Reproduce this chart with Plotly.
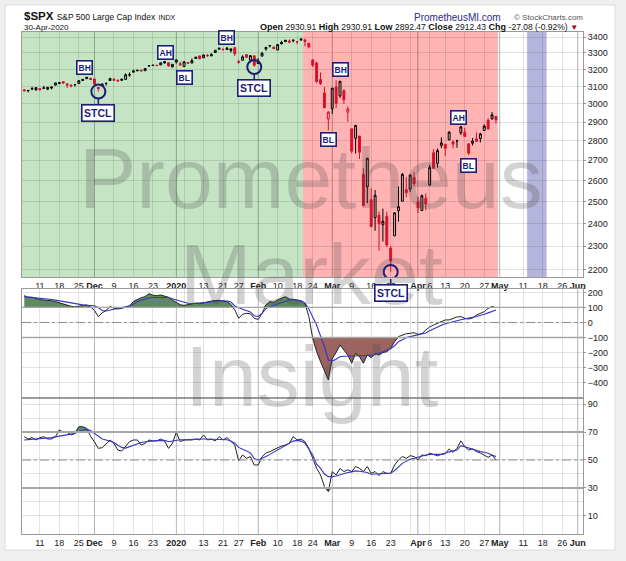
import math
import plotly.graph_objects as go

# ---- S&P 500 daily candles, 5-Nov-2019 .. 30-Apr-2020
dates = [
    "2019-11-05", "2019-11-06", "2019-11-07", "2019-11-08",
    "2019-11-11", "2019-11-12", "2019-11-13", "2019-11-14", "2019-11-15",
    "2019-11-18", "2019-11-19", "2019-11-20", "2019-11-21", "2019-11-22",
    "2019-11-25", "2019-11-26", "2019-11-27", "2019-11-29",
    "2019-12-02", "2019-12-03", "2019-12-04", "2019-12-05", "2019-12-06",
    "2019-12-09", "2019-12-10", "2019-12-11", "2019-12-12", "2019-12-13",
    "2019-12-16", "2019-12-17", "2019-12-18", "2019-12-19", "2019-12-20",
    "2019-12-23", "2019-12-24", "2019-12-26", "2019-12-27",
    "2019-12-30", "2019-12-31", "2020-01-02", "2020-01-03",
    "2020-01-06", "2020-01-07", "2020-01-08", "2020-01-09", "2020-01-10",
    "2020-01-13", "2020-01-14", "2020-01-15", "2020-01-16", "2020-01-17",
    "2020-01-21", "2020-01-22", "2020-01-23", "2020-01-24",
    "2020-01-27", "2020-01-28", "2020-01-29", "2020-01-30", "2020-01-31",
    "2020-02-03", "2020-02-04", "2020-02-05", "2020-02-06", "2020-02-07",
    "2020-02-10", "2020-02-11", "2020-02-12", "2020-02-13", "2020-02-14",
    "2020-02-18", "2020-02-19", "2020-02-20", "2020-02-21",
    "2020-02-24", "2020-02-25", "2020-02-26", "2020-02-27", "2020-02-28",
    "2020-03-02", "2020-03-03", "2020-03-04", "2020-03-05", "2020-03-06",
    "2020-03-09", "2020-03-10", "2020-03-11", "2020-03-12", "2020-03-13",
    "2020-03-16", "2020-03-17", "2020-03-18", "2020-03-19", "2020-03-20",
    "2020-03-23", "2020-03-24", "2020-03-25", "2020-03-26", "2020-03-27",
    "2020-03-30", "2020-03-31", "2020-04-01", "2020-04-02", "2020-04-03",
    "2020-04-06", "2020-04-07", "2020-04-08", "2020-04-09",
    "2020-04-13", "2020-04-14", "2020-04-15", "2020-04-16", "2020-04-17",
    "2020-04-20", "2020-04-21", "2020-04-22", "2020-04-23", "2020-04-24",
    "2020-04-27", "2020-04-28", "2020-04-29", "2020-04-30",
]
opens = [
    3080.80, 3075.10, 3087.02, 3081.25, 3080.33, 3089.28, 3084.18, 3090.75, 3107.92,
    3117.91, 3127.45, 3114.66, 3108.49, 3111.41, 3117.44, 3134.85, 3145.49, 3147.18,
    3143.85, 3087.41, 3103.50, 3119.21, 3134.62, 3141.86, 3135.36, 3135.75, 3141.23, 3166.65,
    3183.63, 3195.40, 3195.21, 3192.32, 3223.33, 3226.05, 3225.45, 3227.20, 3247.23,
    3240.09, 3215.18, 3244.67, 3226.36, 3217.55, 3241.86, 3238.59, 3266.03, 3281.81,
    3271.13, 3285.35, 3282.27, 3302.97, 3323.66, 3321.03, 3330.02, 3315.77, 3333.10,
    3247.16, 3255.35, 3289.46, 3256.45, 3282.33, 3235.66, 3280.61, 3324.91, 3344.92, 3335.54,
    3318.28, 3365.87, 3370.50, 3365.90, 3378.08, 3369.04, 3380.39, 3380.45, 3360.50,
    3257.61, 3238.94, 3139.90, 3062.54, 2916.90, 2974.28, 3096.46, 3045.75, 3075.70, 2954.20,
    2863.89, 2813.48, 2825.60, 2630.86, 2569.99, 2508.59, 2425.66, 2436.50, 2393.48, 2431.94,
    2290.71, 2344.44, 2457.77, 2501.29, 2555.87, 2558.98, 2614.69, 2498.08, 2458.54, 2514.92,
    2578.28, 2738.65, 2685.00, 2776.99, 2782.46, 2805.10, 2795.64, 2799.34, 2842.43,
    2845.62, 2784.81, 2787.89, 2810.42, 2812.64, 2854.65, 2909.96, 2918.46, 2930.91,
]
highs = [
    3083.95, 3078.34, 3097.77, 3093.09, 3088.33, 3102.61, 3098.06, 3098.20, 3120.46,
    3124.17, 3127.64, 3118.97, 3110.11, 3112.87, 3133.83, 3142.69, 3154.26, 3150.30,
    3144.31, 3094.97, 3119.38, 3119.45, 3150.60, 3148.87, 3142.12, 3143.98, 3176.28, 3182.68,
    3197.71, 3198.22, 3198.48, 3205.48, 3225.65, 3227.78, 3226.43, 3240.08, 3247.93,
    3240.92, 3231.72, 3258.14, 3246.15, 3246.84, 3244.91, 3267.07, 3275.58, 3282.99,
    3288.13, 3294.25, 3298.66, 3317.11, 3329.88, 3329.79, 3337.77, 3326.88, 3333.18,
    3258.85, 3285.78, 3293.47, 3285.91, 3282.33, 3268.44, 3306.92, 3337.58, 3347.96, 3341.42,
    3352.26, 3375.63, 3381.47, 3385.09, 3380.69, 3375.01, 3393.52, 3389.15, 3360.76,
    3259.81, 3246.99, 3182.51, 3097.07, 2959.72, 3090.96, 3136.72, 3130.97, 3083.04, 2985.93,
    2863.89, 2882.59, 2825.60, 2660.95, 2711.33, 2562.98, 2553.93, 2453.57, 2466.97, 2453.01,
    2300.73, 2449.71, 2571.42, 2637.01, 2615.91, 2631.80, 2641.39, 2522.75, 2533.22, 2538.18,
    2676.85, 2756.89, 2760.75, 2818.57, 2782.46, 2851.85, 2801.88, 2806.51, 2879.22,
    2868.98, 2785.54, 2815.10, 2844.90, 2842.71, 2887.72, 2921.15, 2954.86, 2930.91,
]
lows = [
    3072.15, 3065.89, 3080.23, 3073.58, 3075.82, 3084.73, 3078.80, 3083.26, 3104.60,
    3112.06, 3113.47, 3091.41, 3094.55, 3099.26, 3117.44, 3131.00, 3143.41, 3139.34,
    3110.78, 3070.33, 3102.53, 3103.76, 3134.62, 3135.46, 3126.09, 3133.21, 3138.47, 3156.51,
    3183.63, 3191.03, 3191.14, 3191.72, 3216.03, 3222.30, 3220.51, 3227.20, 3234.37,
    3216.57, 3212.03, 3235.53, 3222.34, 3214.64, 3232.43, 3236.67, 3263.67, 3260.86,
    3268.43, 3277.19, 3280.69, 3302.82, 3318.86, 3316.61, 3320.04, 3301.87, 3281.53,
    3234.50, 3253.22, 3271.89, 3242.80, 3214.68, 3235.66, 3280.61, 3313.75, 3334.39, 3322.12,
    3317.77, 3352.72, 3369.72, 3360.52, 3366.15, 3355.61, 3378.83, 3341.02, 3328.45,
    3214.65, 3118.77, 3108.99, 2977.39, 2855.84, 2945.19, 2976.63, 3034.38, 2999.83, 2901.54,
    2734.43, 2734.00, 2707.22, 2478.86, 2492.37, 2380.94, 2367.04, 2280.52, 2319.78, 2295.56,
    2191.86, 2344.44, 2407.53, 2500.72, 2520.02, 2545.28, 2571.15, 2447.49, 2455.79, 2459.96,
    2574.57, 2657.67, 2663.30, 2762.36, 2721.17, 2805.10, 2761.54, 2764.32, 2830.88,
    2820.43, 2727.10, 2775.95, 2794.26, 2791.76, 2852.89, 2860.71, 2912.16, 2892.47,
]
closes = [
    3074.62, 3076.78, 3085.18, 3093.08, 3087.01, 3091.84, 3094.04, 3096.63, 3120.46,
    3122.03, 3120.18, 3108.46, 3103.54, 3110.29, 3133.64, 3140.52, 3153.63, 3140.98,
    3113.87, 3093.20, 3112.76, 3117.43, 3145.91, 3135.96, 3132.52, 3141.63, 3168.57, 3168.80,
    3191.45, 3192.52, 3191.14, 3205.37, 3221.22, 3224.01, 3223.38, 3239.91, 3240.02,
    3221.29, 3230.78, 3257.85, 3234.85, 3246.28, 3237.18, 3253.05, 3274.70, 3265.35,
    3288.13, 3283.15, 3289.29, 3316.81, 3329.62, 3320.79, 3321.75, 3325.54, 3295.47,
    3243.63, 3276.24, 3273.40, 3283.66, 3225.52, 3248.92, 3297.59, 3334.69, 3345.78, 3327.71,
    3352.09, 3357.75, 3379.45, 3373.94, 3380.16, 3370.29, 3386.15, 3373.23, 3337.75,
    3225.89, 3128.21, 3116.39, 2978.76, 2954.22, 3090.23, 3003.37, 3130.12, 3023.94, 2972.37,
    2746.56, 2882.23, 2741.38, 2480.64, 2711.02, 2386.13, 2529.19, 2398.10, 2409.39, 2304.92,
    2237.40, 2447.33, 2475.56, 2630.07, 2541.47, 2626.65, 2584.59, 2470.50, 2526.90, 2488.65,
    2663.68, 2659.41, 2749.98, 2789.82, 2761.63, 2846.06, 2783.36, 2799.55, 2874.56,
    2823.16, 2736.56, 2799.31, 2797.80, 2836.74, 2878.48, 2863.39, 2939.51, 2912.43,
]
prior_close = 3078.27  # 4-Nov-2019

# ---- middle panel oscillator (black) and its signal (blue)
cci = [
    179, 166, 168, 160, 152, 150, 150, 145, 139, 130, 125, 115, 108, 104,
    108, 112, 117, 105, 80, 39, 65, 80, 106, 95, 90, 94, 100, 110,
    140, 155, 165, 172, 192, 182, 178, 183, 175, 168, 150, 135, 118, 114,
    120, 123, 128, 125, 132, 136, 143, 146, 148, 143, 139, 120, 83, 28,
    55, 61, 58, 28, 20, 61, 117, 139, 135, 150, 161, 172, 157, 152,
    148, 145, 128, 40, -106, -194, -261, -328, -383, -240, -200, -150, -185, -217,
    -272, -206, -228, -272, -215, -235, -206, -217, -200, -195, -172, -128, -94, -83,
    -75, -72, -68, -79, -75, -50, -30, -17, -6, 1, 17, 17, 28, 37,
    39, 28, 23, 30, 50, 61, 72, 94, 106, 99,
]
cci_signal = [
    172, 170, 168, 165, 162, 160, 157, 153, 149, 144, 140, 135, 130, 124,
    120, 117, 115, 113, 112, 100, 80, 77, 82, 88, 92, 100, 106, 112,
    122, 138, 148, 156, 163, 166, 167, 168, 167, 166, 158, 150, 142, 134,
    128, 126, 127, 128, 130, 134, 138, 142, 143, 144, 143, 136, 110, 98,
    90, 83, 70, 45, 40, 60, 94, 105, 115, 125, 132, 140, 150, 151,
    150, 142, 128, 90, 40, -17, -90, -160, -250, -257, -245, -228, -225, -223,
    -222, -221, -222, -222, -221, -221, -215, -205, -195, -185, -175, -155, -128, -115,
    -100, -94, -88, -82, -79, -70, -55, -42, -28, -18, -8, 0, 6, 12,
    18, 22, 28, 34, 40, 46, 55, 64, 73, 83,
]

# ---- lower panel oscillator (black) and its signal (blue)
rsi = [
    66.7, 65, 66, 64.3, 66, 66.7, 65, 65, 66.7, 71.4, 69.8, 69.8, 67.9, 69,
    73.8, 73.8, 72.6, 67, 63, 58.3, 58.8, 61.9, 64.3, 61.9, 57.1, 56.4, 59.5, 63.1,
    64.3, 64.3, 60.7, 61.9, 64.3, 63.6, 63.6, 65, 63.5, 58.3, 61.9, 69.8, 63.1, 64.3,
    64.3, 64.3, 65, 64.3, 67.9, 64.3, 65, 63.6, 66.7, 64.3, 66, 63.1, 60.7, 49.3,
    53.6, 51.2, 52.4, 46.4, 46.4, 52.4, 55, 56, 57.5, 58.8, 60, 60.7, 62, 66.7,
    64.3, 65, 63.1, 58.3, 51.2, 44, 39.3, 31, 27.4, 41.7, 39.3, 44, 41.7, 43,
    41.7, 45.3, 44, 41.7, 45.3, 40.5, 41.7, 38.8, 41.7, 40.5, 40.5, 46.4, 50, 52.5,
    51.2, 53.1, 52.4, 50, 53.6, 53, 54.8, 54, 53, 54, 54.5, 57.9, 55.5, 58.3,
    63.6, 59.5, 57.1, 58, 56, 55, 53.6, 51.9, 53.6, 50,
]
rsi_signal = [
    64.3, 64.5, 64.7, 64.8, 65, 65.2, 65.5, 66, 66.5, 67, 67.5, 68, 68.3, 69,
    70.5, 71.5, 72, 71, 69, 67, 65, 64.3, 63.5, 62.5, 60.5, 59, 58.5, 59.5,
    61, 62, 62.5, 63, 63.5, 63.6, 63.8, 64, 64, 63, 63.5, 64.3, 64.5, 64.5,
    64.7, 65, 65, 65, 65, 65, 65, 65, 65, 65, 64.5, 63.5, 62, 59,
    58, 56.5, 55, 51, 50, 51, 52.5, 54, 55.5, 57, 58.5, 60, 62, 63.5,
    64, 63.5, 62, 58, 53.6, 47, 44, 40, 38.1, 38.1, 38.5, 39.5, 40.5, 41,
    41.5, 42.2, 42, 41.5, 41, 39.8, 40, 40.2, 40.5, 40.5, 40.5, 42.5, 45, 47.6,
    49, 50.5, 51.2, 52, 53, 53.6, 54, 54, 54, 54, 55, 56, 56.5, 57.1,
    60.2, 59.5, 58.5, 57.9, 57, 56, 55.5, 54.8, 53.5, 52.4,
]

# ---- date axis
tick_dates = [
    "2019-11-11", "2019-11-18", "2019-11-25", "2019-12-02", "2019-12-09", "2019-12-16",
    "2019-12-23", "2020-01-02", "2020-01-06", "2020-01-13", "2020-01-21", "2020-01-27",
    "2020-02-03", "2020-02-10", "2020-02-18", "2020-02-24", "2020-03-02", "2020-03-09",
    "2020-03-16", "2020-03-23", "2020-03-30", "2020-04-01", "2020-04-06", "2020-04-13",
    "2020-04-20", "2020-04-27", "2020-05-01", "2020-05-11", "2020-05-18", "2020-05-26",
    "2020-06-01",
]
tick_text = [
    "11", "18", "25", "<b>Dec</b>", "9", "16",
    "23", "<b>2020</b>", "", "13", "21", "27",
    "<b>Feb</b>", "10", "18", "24", "<b>Mar</b>", "9",
    "16", "23", "", "<b>Apr</b>", "6", "13",
    "20", "27", "<b>May</b>", "11", "18", "26",
    "<b>Jun</b>",
]
month_starts = ["2019-12-02", "2020-01-02", "2020-02-03", "2020-03-02",
                "2020-04-01", "2020-05-01", "2020-06-01"]
holidays = ["2019-11-28", "2019-12-25", "2020-01-01", "2020-01-20",
            "2020-02-17", "2020-04-10", "2020-05-25"]

# market phases shaded behind the price panel
phase_start = ["2019-11-01", "2020-02-19 12:00", "2020-05-12"]
phase_end = ["2020-02-19 12:00", "2020-04-30 12:00", "2020-05-19"]
phase_kind = ["up", "down", "future"]

# chart notes on the price panel
note_text = ["BH", "AH", "BL", "BH", "AH", "BH", "BL", "AH", "BL"]
note_date = ["2019-11-26 12:00", "2019-12-27 08:00", "2020-01-06", "2020-01-22",
             "2020-02-19", "2020-03-04", "2020-02-28", "2020-04-16 12:00", "2020-04-21"]
note_price = [3209, 3306, 3155, 3400, 3458, 3197, 2805, 2927, 2676]
stcl_date = ["2019-12-03", "2020-01-31", "2020-03-23"]

# ---------------------------------------------------------------- figure
W, H = 626, 561
L, R, T, B = 22, 43, 32, 27
NAVY = "#1c1f78"
RED = "#d7102b"
GRID = "rgba(0,0,0,0.11)"
FONT = "Liberation Sans, Arial, sans-serif"


def px(x):
    return (x - L) / (W - L - R)


def py(y):
    return (H - B - y) / (H - T - B)


fig = go.Figure()

# candles: black/red = vs previous close, hollow/filled = vs open
prev = [prior_close] + closes[:-1]
for color in ["black", RED]:
    for hollow in [True, False]:
        idx = [i for i in range(len(dates))
               if ((closes[i] >= prev[i]) == (color == "black"))
               and ((closes[i] > opens[i]) == hollow)]
        style = dict(line=dict(color=color, width=1),
                     fillcolor="rgba(0,0,0,0)" if hollow else color)
        fig.add_trace(go.Candlestick(
            x=[dates[i] for i in idx],
            open=[opens[i] for i in idx], high=[highs[i] for i in idx],
            low=[lows[i] for i in idx], close=[closes[i] for i in idx],
            increasing=style, decreasing=style, whiskerwidth=0,
            showlegend=False, hoverinfo="skip", xaxis="x", yaxis="y"))

# STCL circles around the lows
stcl_low = [lows[dates.index(d)] for d in stcl_date]
fig.add_trace(go.Scatter(
    x=stcl_date, y=stcl_low, mode="markers",
    marker=dict(symbol="circle-open", size=14, color=NAVY, line=dict(width=2)),
    showlegend=False, hoverinfo="skip", xaxis="x", yaxis="y"))


def osc_panel(values, signal, hi, lo, ax):
    xa, ya = "x" + ax, "y" + ax
    n = len(dates)
    fig.add_trace(go.Scatter(x=dates, y=[hi] * n, mode="lines", line=dict(width=0),
                             showlegend=False, hoverinfo="skip", xaxis=xa, yaxis=ya))
    fig.add_trace(go.Scatter(x=dates, y=[max(v, hi) for v in values], mode="lines",
                             line=dict(width=0), fill="tonexty", fillcolor="#5f8a5f",
                             showlegend=False, hoverinfo="skip", xaxis=xa, yaxis=ya))
    fig.add_trace(go.Scatter(x=dates, y=[lo] * n, mode="lines", line=dict(width=0),
                             showlegend=False, hoverinfo="skip", xaxis=xa, yaxis=ya))
    fig.add_trace(go.Scatter(x=dates, y=[min(v, lo) for v in values], mode="lines",
                             line=dict(width=0), fill="tonexty", fillcolor="#9c645e",
                             showlegend=False, hoverinfo="skip", xaxis=xa, yaxis=ya))
    fig.add_trace(go.Scatter(x=dates, y=values, mode="lines",
                             line=dict(color="#222222", width=1),
                             showlegend=False, hoverinfo="skip", xaxis=xa, yaxis=ya))
    fig.add_trace(go.Scatter(x=dates, y=signal, mode="lines",
                             line=dict(color="#3535c8", width=1.1),
                             showlegend=False, hoverinfo="skip", xaxis=xa, yaxis=ya))


osc_panel(cci, cci_signal, 100, -100, "2")
osc_panel(rsi, rsi_signal, 70, 30, "3")

# ---------------------------------------------------------------- shapes
shapes = [dict(type="rect", xref="paper", yref="paper", layer="below",
               x0=px(5), x1=px(615), y0=py(550), y1=py(5),
               fillcolor="white", line=dict(color="#dddddd", width=1))]
phase_fill = {"up": "#c4e4c4", "down": "#ffb3b3", "future": "#b4b4dc"}
for s, e, k in zip(phase_start, phase_end, phase_kind):
    shapes.append(dict(type="rect", xref="x", yref="y domain", layer="below",
                       x0=s, x1=e, y0=0, y1=1, fillcolor=phase_fill[k], line=dict(width=0)))
for ax in ["", "2", "3"]:
    for d in month_starts:
        shapes.append(dict(type="line", xref="x" + ax, yref="y" + ax + " domain",
                           layer="below", x0=d, x1=d, y0=0, y1=1,
                           line=dict(color="rgba(0,0,0,0.2)", width=1)))
for ax, levels in [("2", (100, 0, -100)), ("3", (70, 50, 30))]:
    for j, lev in enumerate(levels):
        mid = j == 1
        shapes.append(dict(type="line", xref="x" + ax + " domain", yref="y" + ax,
                           x0=0, x1=1, y0=lev, y1=lev,
                           line=dict(color="#8c8c8c" if mid else "#a6a6a6",
                                     width=1 if mid else (1.3 if ax == "2" else 2),
                                     dash="dashdot" if mid else "solid")))

# ---------------------------------------------------------------- annotations
ann = []
mark = ["Prometheus", "Market", "Insight"]
mark_y = [178, 274, 376]
for t, yy in zip(mark, mark_y):
    ann.append(dict(text=t, xref="paper", yref="paper", x=px(311), y=py(yy),
                    xanchor="center", yanchor="middle", showarrow=False,
                    font=dict(family=FONT, size=86, color="rgba(70,70,70,0.24)")))

head = dict(xref="paper", yref="paper", yanchor="middle", showarrow=False)
ann.append(dict(head, x=px(22), y=py(16), xanchor="left",
                font=dict(family=FONT, size=11.5, color="#111"),
                text="<b>$SPX</b> <span style='font-size:8.5px'>S&amp;P 500 Large Cap Index</span>"
                     " <span style='font-size:7px'>INDX</span>"))
ann.append(dict(head, x=px(22), y=py(27), xanchor="left",
                font=dict(family=FONT, size=8, color="#111"), text="30-Apr-2020"))
ann.append(dict(head, x=px(503), y=py(17), xanchor="right",
                font=dict(family=FONT, size=10, color="#2b2b8c"), text="PrometheusMI.com"))
ann.append(dict(head, x=px(512), y=py(17), xanchor="left",
                font=dict(family=FONT, size=8, color="#555"), text="© StockCharts.com"))
v = "<span style='font-size:8.5px'>"
ann.append(dict(head, x=px(580), y=py(27), xanchor="right",
                font=dict(family=FONT, size=9, color="#111"),
                text=f"<b>Open</b> {v}2930.91</span> <b>High</b> {v}2930.91</span> "
                     f"<b>Low</b> {v}2892.47</span> <b>Close</b> {v}2912.43</span> "
                     f"<b>Chg</b> {v}-27.08 (-0.92%)</span> "
                     "<span style='color:#a0002a;font-size:8px'>▼</span>"))

for t, d, p in zip(note_text, note_date, note_price):
    ann.append(dict(text=f"<b>{t}</b>", x=d, y=math.log10(p), xref="x", yref="y",
                    showarrow=False, font=dict(family=FONT, size=8.5, color=NAVY),
                    bgcolor="white", bordercolor=NAVY, borderwidth=1.6, borderpad=1))
for d, p in zip(stcl_date, stcl_low):
    ann.append(dict(text="<b>STCL</b>", x=d, y=math.log10(p), xref="x", yref="y",
                    showarrow=True, arrowhead=0, arrowwidth=1.5, arrowcolor=NAVY,
                    ax=0, ay=21, standoff=7,
                    font=dict(family=FONT, size=10.5, color=NAVY),
                    bgcolor="white", bordercolor=NAVY, borderwidth=1.6, borderpad=1.5))

# ---------------------------------------------------------------- axes
xrange = ["2019-11-04 10:00", "2020-06-02 08:00"]
rb = [dict(bounds=["sat", "mon"]), dict(values=holidays)]
tickfont = dict(family=FONT, size=9, color="#222")
xcommon = dict(type="date", range=xrange, rangebreaks=rb, tickmode="array",
               tickvals=tick_dates, ticktext=tick_text, tickfont=tickfont,
               tickangle=0, automargin=False,
               showgrid=True, gridcolor=GRID, gridwidth=1, ticks="",
               showline=True, linecolor="#9a9a9a", mirror=True, zeroline=False,
               fixedrange=True)
ycommon = dict(side="right", tickfont=tickfont, showgrid=True, gridcolor=GRID,
               ticks="outside", ticklen=2, tickcolor="#999", showline=True,
               linecolor="#9a9a9a", mirror=True, zeroline=False, fixedrange=True,
               automargin=False)

price_ticks = [2200, 2300, 2400, 2500, 2600, 2700, 2800, 2900, 3000, 3100, 3200, 3300, 3400]
cci_ticks = [200, 100, 0, -100, -200, -300, -400]
rsi_ticks = [10, 30, 50, 70, 90]

fig.update_layout(
    width=W, height=H,
    margin=dict(l=L, r=R, t=T, b=B),
    paper_bgcolor="#efefef", plot_bgcolor="white",
    showlegend=False, hovermode=False,
    font=dict(family=FONT),
    shapes=shapes, annotations=ann,
    xaxis=dict(xcommon, anchor="y", rangeslider=dict(visible=False)),
    xaxis2=dict(xcommon, anchor="y2", matches="x", showticklabels=False),
    xaxis3=dict(xcommon, anchor="y3", matches="x"),
    yaxis=dict(ycommon, type="log", domain=[py(277), py(32)],
               range=[math.log10(2171), math.log10(3432)],
               tickmode="array", tickvals=price_ticks,
               ticktext=[str(t) for t in price_ticks]),
    yaxis2=dict(ycommon, domain=[py(398), py(289)], range=[-503, 223],
                tickmode="array", tickvals=cci_ticks),
    yaxis3=dict(ycommon, domain=[0, py(398)], range=[-2.9, 94.3],
                tickmode="array", tickvals=rsi_ticks,
                minor=dict(tickvals=[20, 40, 60, 80], showgrid=True, gridcolor=GRID)),
)

fig.write_html("out.html", config={"displayModeBar": False},
               post_script="document.body.style.margin='0px';")
